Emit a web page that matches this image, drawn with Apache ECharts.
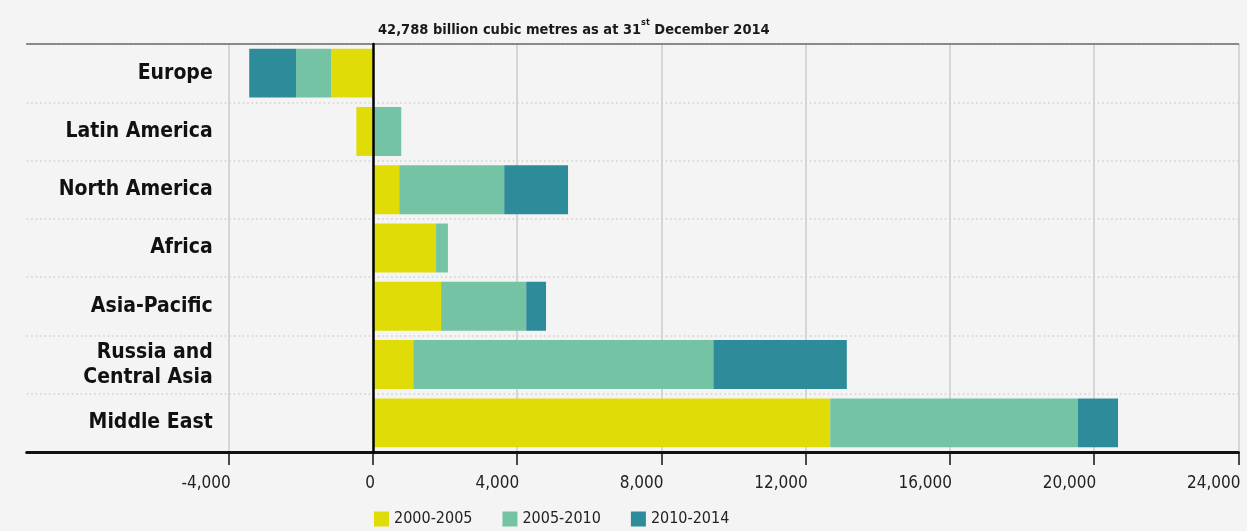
<!DOCTYPE html>
<html>
<head>
<meta charset="utf-8">
<script src="https://cdn.jsdelivr.net/npm/echarts@6/dist/echarts.min.js"></script>
<style>
html,body{margin:0;padding:0;background:#f4f4f4;}
#chart{width:1247px;height:531px;}
</style>
</head>
<body>
<div id="chart"></div>
<script>
var categories = ['Europe', 'Latin America', 'North America', 'Africa', 'Asia-Pacific', 'Russia and\nCentral Asia', 'Middle East'];
var s2000_2005 = [-1160, -460, 730, 1750, 1890, 1120, 12680];
var s2005_2010 = [-970, 785, 2910, 330, 2360, 8320, 6870];
var s2010_2014 = [-1300, 0, 1770, 0, 550, 3700, 1110];
var seriesNames = ['2000-2005', '2005-2010', '2010-2014'];
var tickValues = [-4000, 0, 4000, 8000, 12000, 16000, 20000, 24000];

var FONT = "'Liberation Sans Narrow', 'DejaVu Sans Condensed', 'Roboto Condensed', sans-serif";
var colors = ['#dfdc08', '#74c3a4', '#2e8b99'];

var chart = echarts.init(document.getElementById('chart'));
function fmt(v){ return v.toLocaleString('en-US'); }
var dataSets = [s2000_2005, s2005_2010, s2010_2014];
var series = dataSets.map(function(d, i){
  return {
    name: seriesNames[i],
    type: 'bar',
    stack: 'total',
    barWidth: '84%',
    itemStyle: {color: colors[i]},
    data: d.map(function(v){ return v === 0 ? null : v; }),
    z: 2
  };
});

chart.setOption({
  backgroundColor: '#f4f4f4',
  animation: false,
  textStyle: {fontFamily: FONT},
  title: {
    left: 373, top: 13,
    text: '{a|42,788 billion cubic metres as at 31}{s|st}{a| December 2014}',
    textStyle: {
      rich: {
        a: {fontFamily: FONT, fontWeight: 'bold', fontSize: 14.5, color: '#1a1a1a', verticalAlign: 'bottom', lineHeight: 20},
        s: {fontFamily: FONT, fontWeight: 'bold', fontSize: 9, color: '#1a1a1a', verticalAlign: 'top', lineHeight: 20, padding: [0,0,8,0]}
      }
    }
  },
  legend: {
    left: 369, top: 506,
    itemWidth: 15, itemHeight: 15, itemGap: 30,
    icon: 'rect',
    data: seriesNames,
    textStyle: {fontFamily: FONT, fontSize: 16, color: '#222'}
  },
  grid: {left: 26.7, right: 8.5, top: 44, bottom: 79, containLabel: false, outerBoundsMode: 'none'},
  xAxis: [{
    type: 'value',
    position: 'bottom',
    z: 1,
    min: -9600, max: 24000,
    axisLine: {show: true, onZero: false, lineStyle: {color: '#111', width: 3}},
    axisTick: {show: true, customValues: tickValues, length: 13, lineStyle: {color: '#111', width: 1.5}},
    axisLabel: {customValues: tickValues, margin: 23, fontSize: 17, color: '#222', fontFamily: FONT,
      align: 'right', padding: [0, -2, 0, 0],
      formatter: function(v){ return fmt(v); }},
    splitLine: {show: true, lineStyle: {color: '#cccccc', width: 1.5}}
  }, {
    type: 'value',
    position: 'top',
    z: 1,
    min: -9600, max: 24000,
    axisLine: {show: true, onZero: false, lineStyle: {color: '#6a6a6a', width: 1.5}},
    axisTick: {show: false},
    axisLabel: {show: false},
    splitLine: {show: false}
  }],
  yAxis: [{
    type: 'category',
    inverse: true,
    data: categories,
    position: 'left',
    z: 10,
    axisLine: {show: true, onZero: true, lineStyle: {color: '#000', width: 2.5}},
    axisTick: {show: false},
    axisLabel: {show: false},
    splitLine: {show: false}
  }, {
    type: 'category',
    inverse: true,
    data: categories,
    position: 'left',
    z: 0,
    axisLine: {show: false, onZero: false},
    axisTick: {show: false},
    axisLabel: {show: true, inside: true, margin: 186, interval: 0, fontSize: 21, fontWeight: 'bold', color: '#111', fontFamily: FONT, lineHeight: 25, align: 'right'},
    splitLine: {show: true, lineStyle: {color: '#cfcfcf', width: 1.5, type: [1.5, 3]}}
  }],
  series: series
});
</script>
</body>
</html>
